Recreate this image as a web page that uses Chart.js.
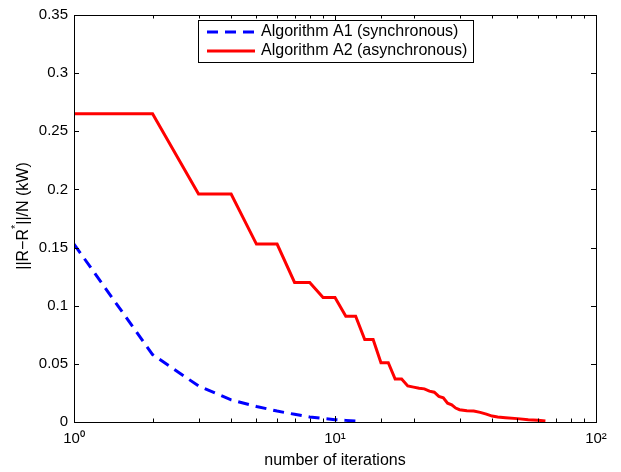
<!DOCTYPE html>
<html>
<head>
<meta charset="utf-8">
<script src="https://cdn.jsdelivr.net/npm/chart.js@4.4.0/dist/chart.umd.min.js"></script>
<style>
  html, body { margin: 0; padding: 0; background: #fff; }
  #wrap { width: 621px; height: 472px; }
</style>
</head>
<body>
<div id="wrap"><canvas id="chart"></canvas></div>
<script>
// values
const iterA1 = [1, 2, 3, 4, 5, 6, 7, 8, 9, 10, 11, 12];
const errA1 = [0.153, 0.058, 0.031, 0.019, 0.0134, 0.0094, 0.0066, 0.0043, 0.003, 0.002, 0.0014, 0.0009];

const iterA2 = [1, 2, 3, 4, 5, 6, 7, 8, 9, 10, 11, 12, 13, 14, 15, 16, 17, 18, 19, 20,
  21, 22, 23, 24, 25, 26, 27, 28, 29, 30, 32, 34, 36, 38, 40, 42, 45, 50, 55, 60, 64];
const errA2 = [0.265, 0.265, 0.196, 0.196, 0.153, 0.153, 0.120, 0.120, 0.107, 0.107,
  0.091, 0.091, 0.071, 0.071, 0.051, 0.051, 0.037, 0.037, 0.031, 0.030,
  0.029, 0.0285, 0.0265, 0.0256, 0.022, 0.0208, 0.0162, 0.0148, 0.012, 0.0106,
  0.0097, 0.0094, 0.0083, 0.0068, 0.0051, 0.0043, 0.0037, 0.0029, 0.002, 0.0015, 0.0009];

const labelA1 = 'Algorithm A1 (synchronous)';
const labelA2 = 'Algorithm A2 (asynchronous)';
const xTitle = 'number of iterations';

const fontFamily = '"Liberation Sans", Arial, Helvetica, sans-serif';
const supers = { 1: '10\u2070', 10: '10\u00b9', 100: '10\u00b2' };

function toPoints(xs, ys) {
  let pts = [];
  for (let i = 0; i < xs.length; i++) {
    pts.push({ x: xs[i], y: ys[i] });
  }
  return pts;
}

// box, inward ticks, y title, x title and legend, matlab style
const matlabFrame = {
  id: 'matlabFrame',
  afterDraw(chart) {
    const ctx = chart.ctx;
    const a = chart.chartArea;
    const xs = chart.scales.x;
    const ys = chart.scales.y;
    ctx.save();
    ctx.strokeStyle = '#000';
    ctx.lineWidth = 1;
    ctx.strokeRect(Math.round(a.left) + 0.5, Math.round(a.top) + 0.5,
      Math.round(a.right - a.left), Math.round(a.bottom - a.top));

    ctx.beginPath();
    xs.ticks.forEach(t => {
      const px = Math.round(xs.getPixelForValue(t.value)) + 0.5;
      const major = supers[t.value] !== undefined;
      const len = major ? 6 : 3.5;
      ctx.moveTo(px, a.bottom);
      ctx.lineTo(px, a.bottom - len);
      ctx.moveTo(px, a.top);
      ctx.lineTo(px, a.top + len);
    });
    ys.ticks.forEach(t => {
      const py = Math.round(ys.getPixelForValue(t.value)) + 0.5;
      ctx.moveTo(a.left, py);
      ctx.lineTo(a.left + 5, py);
      ctx.moveTo(a.right, py);
      ctx.lineTo(a.right - 5, py);
    });
    ctx.stroke();

    // y axis title with a superscript star
    ctx.fillStyle = '#000';
    ctx.translate(24, 216);
    ctx.rotate(-Math.PI / 2);
    ctx.textBaseline = 'middle';
    const p1 = '||R\u2212R';
    const p2 = '||/N (kW)';
    ctx.font = '16px ' + fontFamily;
    const w1 = ctx.measureText(p1).width;
    ctx.font = '11px ' + fontFamily;
    const ws = ctx.measureText('*').width;
    ctx.font = '16px ' + fontFamily;
    const w2 = ctx.measureText(p2).width;
    let x0 = -(w1 + ws + w2) / 2;
    ctx.textAlign = 'left';
    ctx.fillText(p1, x0, 0);
    ctx.font = '11px ' + fontFamily;
    ctx.fillText('*', x0 + w1, -8);
    ctx.font = '16px ' + fontFamily;
    ctx.fillText(p2, x0 + w1 + ws, 0);
    ctx.restore();

    // x axis title
    ctx.save();
    ctx.fillStyle = '#000';
    ctx.font = '16px ' + fontFamily;
    ctx.textAlign = 'center';
    ctx.textBaseline = 'middle';
    ctx.fillText(xTitle, (a.left + a.right) / 2, 461);
    ctx.restore();

    // legend box
    ctx.save();
    const lx = 198, ly = 20, lw = 275, lh = 42;
    ctx.fillStyle = '#fff';
    ctx.fillRect(lx, ly, lw, lh);
    ctx.strokeStyle = '#000';
    ctx.lineWidth = 1;
    ctx.strokeRect(lx + 0.5, ly + 0.5, lw, lh);
    const rows = [
      { ds: chart.data.datasets[0], y: 32 },
      { ds: chart.data.datasets[1], y: 51 }
    ];
    rows.forEach(r => {
      ctx.beginPath();
      ctx.strokeStyle = r.ds.borderColor;
      ctx.lineWidth = r.ds.borderWidth;
      ctx.setLineDash(r.ds.borderDash || []);
      ctx.moveTo(207, r.y);
      ctx.lineTo(255, r.y);
      ctx.stroke();
      ctx.setLineDash([]);
      ctx.fillStyle = '#000';
      ctx.font = '16px ' + fontFamily;
      ctx.textAlign = 'left';
      ctx.textBaseline = 'middle';
      ctx.fillText(r.ds.label, 261, r.y);
    });
    ctx.restore();
  }
};

const chart = new Chart(document.getElementById('chart'), {
  type: 'line',
  data: {
    datasets: [
      {
        label: labelA1,
        data: toPoints(iterA1, errA1),
        borderColor: '#0000ff',
        borderWidth: 3,
        borderDash: [11, 7],
        pointRadius: 0,
        fill: false,
        tension: 0
      },
      {
        label: labelA2,
        data: toPoints(iterA2, errA2),
        borderColor: '#ff0000',
        borderWidth: 3,
        pointRadius: 0,
        fill: false,
        tension: 0
      }
    ]
  },
  options: {
    responsive: true,
    maintainAspectRatio: false,
    animation: false,
    layout: { padding: { left: 0, right: 25, top: 4, bottom: 0 } },
    plugins: {
      legend: { display: false },
      tooltip: { enabled: false }
    },
    scales: {
      x: {
        type: 'logarithmic',
        min: 1,
        max: 100,
        grid: { display: false, drawTicks: false },
        border: { display: false },
        ticks: {
          color: '#000',
          font: { family: fontFamily, size: 15 },
          padding: 8,
          maxRotation: 0,
          autoSkip: false,
          callback: v => supers[v] !== undefined ? supers[v] : ''
        },
        afterFit: s => { s.height = 50; }
      },
      y: {
        type: 'linear',
        min: 0,
        max: 0.35,
        grid: { display: false, drawTicks: false },
        border: { display: false },
        ticks: {
          stepSize: 0.05,
          color: '#000',
          font: { family: fontFamily, size: 15 },
          padding: 6,
          callback: v => String(Number(v.toFixed(2)))
        },
        afterFit: s => { s.width = 74; }
      }
    }
  },
  plugins: [matlabFrame]
});
</script>
</body>
</html>
